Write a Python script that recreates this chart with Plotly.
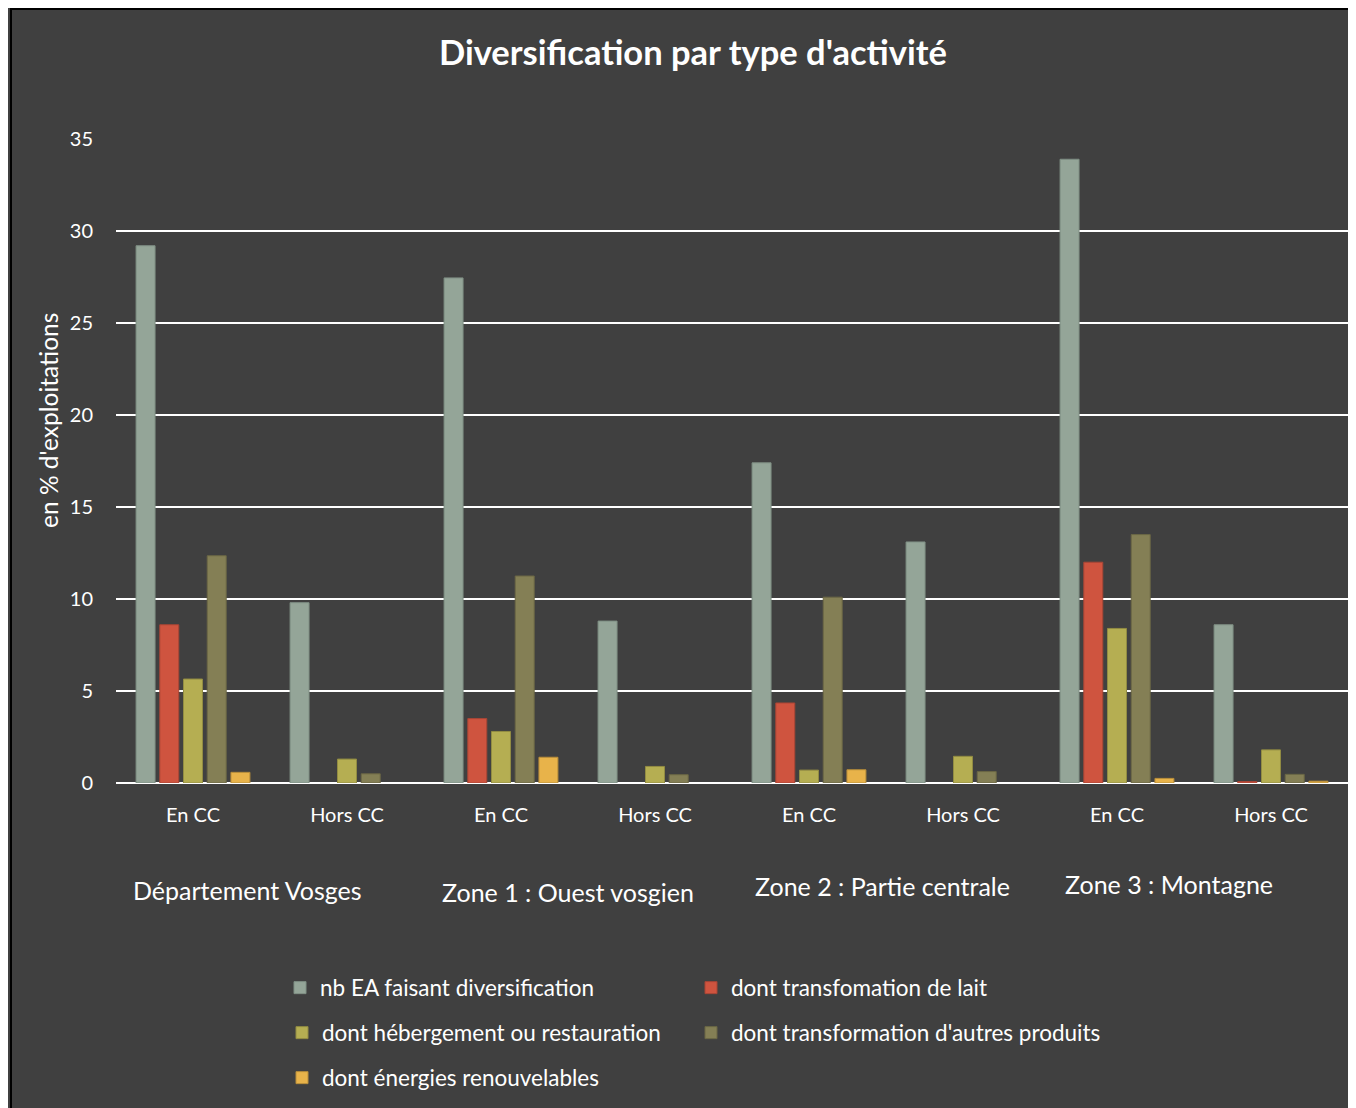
import plotly.graph_objects as go

categories = ["En CC", "Hors CC", "En CC", "Hors CC", "En CC", "Hors CC", "En CC", "Hors CC"]
groups = ["Département Vosges", "Zone 1 : Ouest vosgien", "Zone 2 : Partie centrale", "Zone 3 : Montagne"]
series_names = [
    "nb EA faisant diversification",
    "dont transfomation de lait",
    "dont hébergement ou restauration",
    "dont transformation d'autres produits",
    "dont énergies renouvelables",
]
nb_ea = [29.2, 9.8, 27.45, 8.8, 17.4, 13.1, 33.9, 8.6]
lait = [8.6, None, 3.5, None, 4.35, None, 12.0, 0.08]
hebergement = [5.65, 1.3, 2.8, 0.9, 0.7, 1.45, 8.4, 1.8]
autres = [12.35, 0.5, 11.25, 0.45, 10.1, 0.62, 13.5, 0.47]
energies = [0.58, None, 1.4, None, 0.72, None, 0.25, 0.1]
yticks = [0, 5, 10, 15, 20, 25, 30, 35]
y_title = "en % d'exploitations"

series_values = [nb_ea, lait, hebergement, autres, energies]
colors = ["#94a598", "#cf543f", "#b5ae52", "#847f55", "#e8b34a"]
line_colors = ["#7f8f84", "#a84535", "#928c42", "#6b6745", "#b98e3a"]

# page is offset by 8px body margin: work in page pixels, convert to figure pixels
OFF = 8
W, H = 1356 - OFF, 1108 - OFF
L, R, T, B = 116 - OFF, 1348 - OFF, 139 - OFF, 783 - OFF
pw, ph = R - L, B - T

def px(x):
    return (x - OFF - L) / pw

def py(y):
    return (B - (y - OFF)) / ph

FONT = "Lato, 'Open Sans', sans-serif"
BG = "#404040"

fig = go.Figure()
legend_ids = ["legend", "legend2", "legend3", "legend4", "legend5"]
xpos = list(range(len(categories)))
for name, vals, c, lc, lg in zip(series_names, series_values, colors, line_colors, legend_ids):
    fig.add_trace(go.Bar(
        x=xpos, y=vals, name=name,
        marker=dict(color=c, line=dict(color=lc, width=1)),
        legend=lg,
    ))

# legend positions (page pixels): (legend left x, center y)
legend_pos = [(280, 988), (691, 988), (282, 1033), (691, 1033), (282, 1078)]
legend_font = dict(family=FONT, size=22.5, color="#ffffff")
layout_legends = {}
for lg, (lx, ly) in zip(legend_ids, legend_pos):
    layout_legends[lg] = dict(
        x=px(lx), y=py(ly), xanchor="left", yanchor="middle",
        orientation="h", font=legend_font, bgcolor="rgba(0,0,0,0)",
    )

annotations = [
    dict(text="<b>Diversification par type d'activité</b>", x=px(693), y=py(52),
         xref="paper", yref="paper", showarrow=False,
         font=dict(family=FONT, size=34.5, color="#ffffff"), xanchor="center", yanchor="middle"),
    dict(text=y_title, x=px(48), y=py(421), xref="paper", yref="paper", showarrow=False,
         textangle=-90, xanchor="center", yanchor="middle",
         font=dict(family=FONT, size=24.5, color="#ffffff")),
]
group_label_pos = [(247, 890), (568, 892), (882, 886), (1169, 884)]
for g, (gx, gy) in zip(groups, group_label_pos):
    annotations.append(dict(text=g, x=px(gx), y=py(gy), xref="paper", yref="paper",
                            showarrow=False, xanchor="center", yanchor="middle",
                            font=dict(family=FONT, size=25, color="#ffffff")))

shapes = [dict(type="rect", xref="paper", yref="paper",
               x0=px(11), x1=px(1360), y0=py(1115), y1=py(9),
               line=dict(color="#000000", width=2), fillcolor="rgba(0,0,0,0)", layer="below")]

fig.update_layout(
    width=W, height=H, autosize=False,
    margin=dict(l=L, r=W - R, t=T, b=H - B, pad=0),
    paper_bgcolor=BG, plot_bgcolor=BG,
    font=dict(family=FONT, color="#ffffff"),
    barmode="group", bargap=0.23, bargroupgap=0.2,
    showlegend=True,
    annotations=annotations,
    shapes=shapes,
    **layout_legends,
)
fig.update_xaxes(
    tickmode="array", tickvals=xpos, ticktext=categories,
    range=[-0.5, len(categories) - 0.5],
    showgrid=False, zeroline=False, showline=False, ticks="",
    tickfont=dict(family=FONT, size=20, color="#ffffff"),
    ticklabelstandoff=18,
)
fig.update_yaxes(
    range=[0, 35], tickvals=yticks, showgrid=True, gridcolor="#ffffff", gridwidth=2,
    zeroline=True, zerolinecolor="#ffffff", zerolinewidth=2, showline=False,
    tickfont=dict(family=FONT, size=20, color="#ffffff"), ticks="", ticklabelstandoff=22,
)
fig.write_html("out.html")
